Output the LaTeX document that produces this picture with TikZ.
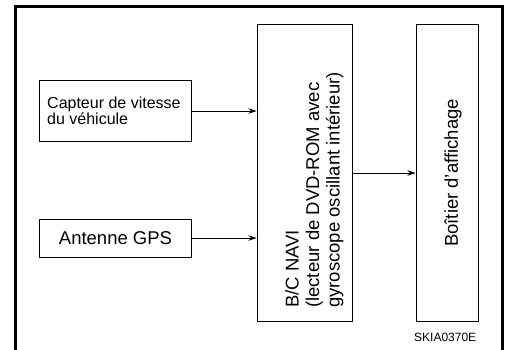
\documentclass[tikz,border=0pt]{standalone}
\usepackage{fontspec}
\setmainfont{Liberation Sans}
\usetikzlibrary{arrows.meta}
\begin{document}
\begin{tikzpicture}[x=1pt,y=-1pt,
  box/.style={draw=black,line width=1pt,inner sep=0pt,minimum width=#1},
  frameline/.style={line width=3pt},
  conn/.style={line width=0.9pt,-{Stealth[length=8pt,width=5.5pt]}},
  bigtext/.style={font=\fontsize{18.5}{20.5}\selectfont,inner sep=0pt},
  smalltext/.style={font=\fontsize{16}{15.7}\selectfont,inner sep=0pt}]
\useasboundingbox (0,0) rectangle (505,350);
% frame
\draw[frameline] (15.5,350) -- (15.5,6.5) -- (502,6.5) -- (502,350);
% boxes
\node[box=152pt,minimum height=60pt] (cap) at (115,111) {};
\node[box=152pt,minimum height=38pt] (gps) at (115,238) {};
\node[box=95pt,minimum height=296pt] (navi) at (304.5,173) {};
\node[box=62pt,minimum height=296pt] (aff) at (447,173) {};
% texts
\node[smalltext,align=left,anchor=base west] (captxt) at (47,124) {Capteur de vitesse\\du véhicule};
\node[bigtext] (gpstxt) at (115.5,238) {Antenne GPS};
\node[bigtext,align=left,rotate=90,anchor=north west] (navitxt) at (285,308)
  {B/C NAVI\\(lecteur de DVD-ROM avec\\gyroscope oscillant intérieur)};
\node[bigtext,rotate=90] (afftxt) at (453,173) {Boîtier d'affichage};
\node[font=\fontsize{12}{14}\selectfont,inner sep=0pt,anchor=base west] (code) at (414,341) {SKIA0370E};
% connectors
\draw[conn] (cap.east) -- (navi.west |- cap.east);
\draw[conn] (gps.east) -- (navi.west |- gps.east);
\draw[conn] (navi.east |- aff.center) -- (aff.west);
\end{tikzpicture}
\end{document}
